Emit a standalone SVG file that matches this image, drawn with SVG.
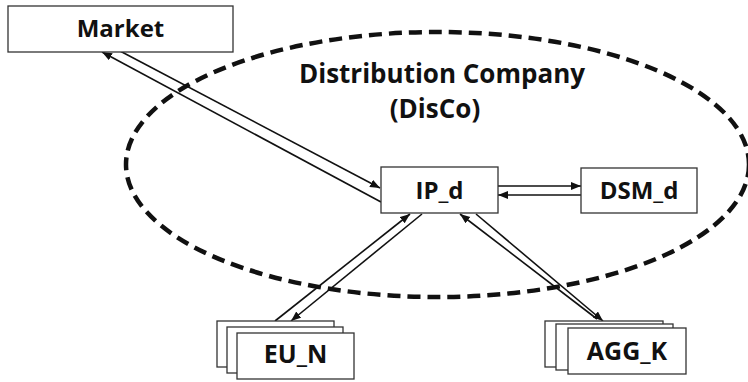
<svg xmlns="http://www.w3.org/2000/svg" width="748" height="382" viewBox="0 0 748 382">
  <style>
    .box { fill: #ffffff; stroke: #333333; stroke-width: 1.3; }
    .lbl { font-family: "Open Sans", "Liberation Sans", sans-serif; font-weight: bold; font-size: 24px; fill: #111111; text-anchor: middle; }
    .title { font-family: "Open Sans", "Liberation Sans", sans-serif; font-weight: bold; font-size: 26px; fill: #111111; text-anchor: middle; }
    .conn { stroke: #111111; stroke-width: 1.6; fill: none; marker-end: url(#arr); }
  </style>
  <defs>
    <marker id="arr" markerUnits="userSpaceOnUse" markerWidth="11" markerHeight="9" refX="10" refY="4" orient="auto">
      <path d="M0,0 L10,4 L0,8 z" fill="#111111"/>
    </marker>
  </defs>
  <rect width="748" height="382" fill="#ffffff"/>

  <g id="disco">
    <ellipse cx="437.5" cy="164.5" rx="311.5" ry="132.5" fill="none" stroke="#111111" stroke-width="4.5" stroke-dasharray="13 7"/>
    <text class="title" x="442" y="83">Distribution Company</text>
    <text class="title" x="435" y="118">(DisCo)</text>
  </g>

  <g id="connectors">
    <line class="conn" x1="120" y1="51" x2="380" y2="188"/>
    <line class="conn" x1="381" y1="202" x2="102" y2="52"/>
    <line class="conn" x1="498" y1="186" x2="581" y2="186"/>
    <line class="conn" x1="581" y1="195" x2="498" y2="195"/>
    <line class="conn" x1="275" y1="321" x2="410" y2="214"/>
    <line class="conn" x1="422" y1="214" x2="291" y2="321"/>
    <line class="conn" x1="597" y1="319" x2="460" y2="214"/>
    <line class="conn" x1="476" y1="214" x2="603" y2="321"/>
  </g>

  <g id="market">
    <rect class="box" x="8" y="6" width="225" height="46"/>
    <text class="lbl" x="120.5" y="37">Market</text>
  </g>

  <g id="ip_d">
    <rect class="box" x="381" y="167" width="117" height="46"/>
    <text class="lbl" x="439.5" y="199">IP_d</text>
  </g>

  <g id="dsm_d">
    <rect class="box" x="581" y="168" width="116" height="45"/>
    <text class="lbl" x="639" y="199">DSM_d</text>
  </g>

  <g id="eu_n">
    <rect class="box" x="217" y="321" width="117" height="46"/>
    <rect class="box" x="227" y="327" width="116" height="46"/>
    <rect class="box" x="237" y="333" width="117" height="46"/>
    <text class="lbl" x="295.5" y="363" style="font-size:25px">EU_N</text>
  </g>

  <g id="agg_k">
    <rect class="box" x="545" y="321" width="118" height="46"/>
    <rect class="box" x="556" y="324" width="117" height="46"/>
    <rect class="box" x="568" y="328" width="118" height="46"/>
    <text class="lbl" x="627" y="360" style="font-size:25px">AGG_K</text>
  </g>
</svg>
